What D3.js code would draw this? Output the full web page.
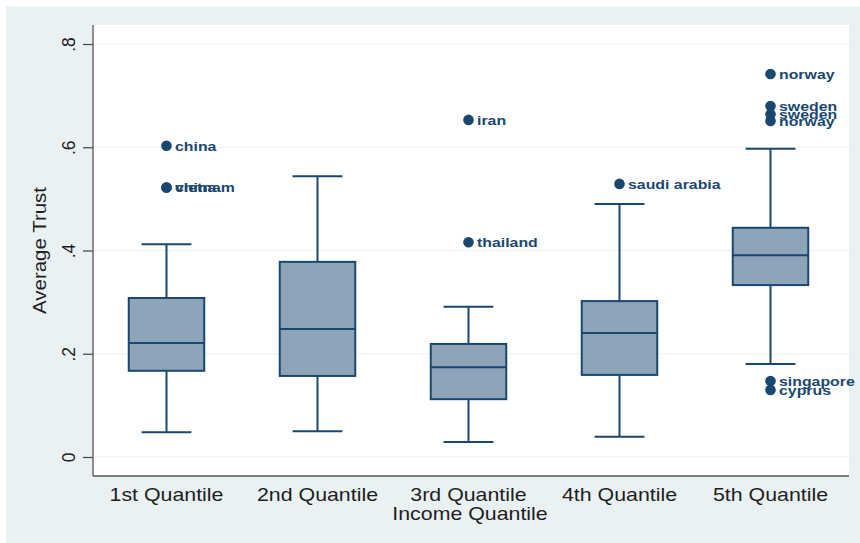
<!DOCTYPE html>
<html>
<head>
<meta charset="utf-8">
<script src="https://cdn.jsdelivr.net/npm/d3@7"></script>
<style>
  body { margin: 0; background: #fff; }
  text { font-family: "Liberation Sans", Arial, sans-serif; }
</style>
</head>
<body>
<div id="viz"></div>
<script>
const width = 860
const height = 543

// data
const quantiles = ["1st Quantile", "2nd Quantile", "3rd Quantile", "4th Quantile", "5th Quantile"]
const whiskerLow = [0.048, 0.050, 0.029, 0.039, 0.180]
const q1 = [0.167, 0.157, 0.112, 0.159, 0.333]
const median = [0.221, 0.248, 0.174, 0.240, 0.391]
const q3 = [0.308, 0.378, 0.219, 0.302, 0.444]
const whiskerHigh = [0.412, 0.544, 0.291, 0.490, 0.597]

const outlierGroup = ["1st Quantile", "1st Quantile", "1st Quantile", "3rd Quantile", "3rd Quantile", "4th Quantile",
    "5th Quantile", "5th Quantile", "5th Quantile", "5th Quantile", "5th Quantile", "5th Quantile"]
const outlierValue = [0.603, 0.522, 0.522, 0.653, 0.416, 0.529, 0.742, 0.680, 0.664, 0.651, 0.147, 0.130]
const outlierLabel = ["china", "china", "vietnam", "iran", "thailand", "saudi arabia",
    "norway", "sweden", "sweden", "norway", "singapore", "cyprus"]

const yTicks = [0, 0.2, 0.4, 0.6, 0.8]
const yTickLabels = ["0", ".2", ".4", ".6", ".8"]

const navy = "#1a476f"
const boxFill = "#8ea4b9"
const panelColor = "#eaf1f3"
const textColor = "#1e1e1e"

const svg = d3.select("#viz").append("svg").attr("width", width).attr("height", height)

// outer panel
svg.append("rect").attr("x", 6).attr("y", 6).attr("width", width-6).attr("height", height-6).attr("fill", panelColor)

const plot = {left: 93, right: 849, top: 25, bottom: 476}

const xScale = d3.scaleBand().domain(quantiles).range([plot.left-2, plot.right-3])
const yScale = d3.scaleLinear().domain([0, 0.8]).range([457, 44])

svg.append("rect").attr("x", plot.left).attr("y", plot.top).attr("width", plot.right-plot.left).attr("height", plot.bottom-plot.top).attr("fill", "white")

// gridlines
svg.append("g").selectAll("line").data(yTicks).enter().append("line")
    .attr("x1", plot.left).attr("x2", plot.right)
    .attr("y1", d=>yScale(d)).attr("y2", d=>yScale(d))
    .attr("stroke", panelColor).attr("stroke-width", 1.2)

// axes
const yAxis = d3.axisLeft(yScale).tickValues(yTicks).tickSize(10).tickFormat((d,i)=>yTickLabels[i])
const yAxisGroup = svg.append("g").attr("transform", `translate(${plot.left}, 0)`).call(yAxis)
yAxisGroup.select(".domain").remove()
yAxisGroup.selectAll("line").attr("stroke", "#444").attr("stroke-width", 1.2)
yAxisGroup.selectAll("text").attr("x", null).attr("dy", null).attr("text-anchor", "middle")
    .attr("transform", "translate(-18, 0) rotate(-90)")
    .attr("fill", textColor).attr("font-size", 17.5)

svg.append("line").attr("x1", plot.left).attr("x2", plot.left).attr("y1", plot.top).attr("y2", plot.bottom)
    .attr("stroke", "#555").attr("stroke-width", 1.3)
svg.append("line").attr("x1", plot.left).attr("x2", plot.right).attr("y1", plot.bottom).attr("y2", plot.bottom)
    .attr("stroke", "#555").attr("stroke-width", 1.3)

const xAxis = d3.axisBottom(xScale).tickSize(0)
const xAxisGroup = svg.append("g").attr("transform", `translate(0, ${plot.bottom})`).call(xAxis)
xAxisGroup.select(".domain").remove()
xAxisGroup.selectAll("text").attr("y", null).attr("dy", null)
    .attr("transform", "translate(0, 25) scale(1.22, 1)")
    .attr("fill", textColor).attr("font-size", 17.5)

// axis titles
svg.append("text").attr("transform", `translate(${(plot.left+plot.right)/2 - 1}, 520) scale(1.22, 1)`)
    .attr("text-anchor", "middle").attr("font-size", 17.5).attr("fill", textColor).text("Income Quantile")
svg.append("text").attr("transform", `translate(46, ${(plot.top+plot.bottom)/2}) rotate(-90) scale(1.17, 1)`)
    .attr("text-anchor", "middle").attr("font-size", 17.5).attr("fill", textColor).text("Average Trust")

// boxes
const bw = xScale.bandwidth()
const boxW = bw*0.5
const capW = bw*0.33
const boxes = svg.append("g").selectAll("g").data(quantiles).enter().append("g")
    .attr("transform", d=>`translate(${xScale(d)+bw/2}, 0)`)

boxes.append("line").attr("x1", 0).attr("x2", 0)
    .attr("y1", (d,i)=>yScale(q3[i])).attr("y2", (d,i)=>yScale(whiskerHigh[i]))
    .attr("stroke", navy).attr("stroke-width", 2)
boxes.append("line").attr("x1", 0).attr("x2", 0)
    .attr("y1", (d,i)=>yScale(q1[i])).attr("y2", (d,i)=>yScale(whiskerLow[i]))
    .attr("stroke", navy).attr("stroke-width", 2)
boxes.append("line").attr("x1", -capW/2).attr("x2", capW/2)
    .attr("y1", (d,i)=>yScale(whiskerHigh[i])).attr("y2", (d,i)=>yScale(whiskerHigh[i]))
    .attr("stroke", navy).attr("stroke-width", 2)
boxes.append("line").attr("x1", -capW/2).attr("x2", capW/2)
    .attr("y1", (d,i)=>yScale(whiskerLow[i])).attr("y2", (d,i)=>yScale(whiskerLow[i]))
    .attr("stroke", navy).attr("stroke-width", 2)
boxes.append("rect").attr("x", -boxW/2).attr("width", boxW)
    .attr("y", (d,i)=>yScale(q3[i])).attr("height", (d,i)=>yScale(q1[i])-yScale(q3[i]))
    .attr("fill", boxFill).attr("stroke", navy).attr("stroke-width", 2)
boxes.append("line").attr("x1", -boxW/2).attr("x2", boxW/2)
    .attr("y1", (d,i)=>yScale(median[i])).attr("y2", (d,i)=>yScale(median[i]))
    .attr("stroke", navy).attr("stroke-width", 2)

// outliers
const outliers = svg.append("g").selectAll("g").data(outlierValue).enter().append("g")
    .attr("transform", (d,i)=>`translate(${xScale(outlierGroup[i])+bw/2}, ${yScale(d)})`)
outliers.append("circle").attr("r", 5.3).attr("fill", navy)
outliers.append("text").attr("transform", "translate(8.5, 4.8) scale(1.22, 1)")
    .attr("font-size", 13).attr("font-weight", "bold").attr("fill", navy)
    .text((d,i)=>outlierLabel[i])
</script>
</body>
</html>
